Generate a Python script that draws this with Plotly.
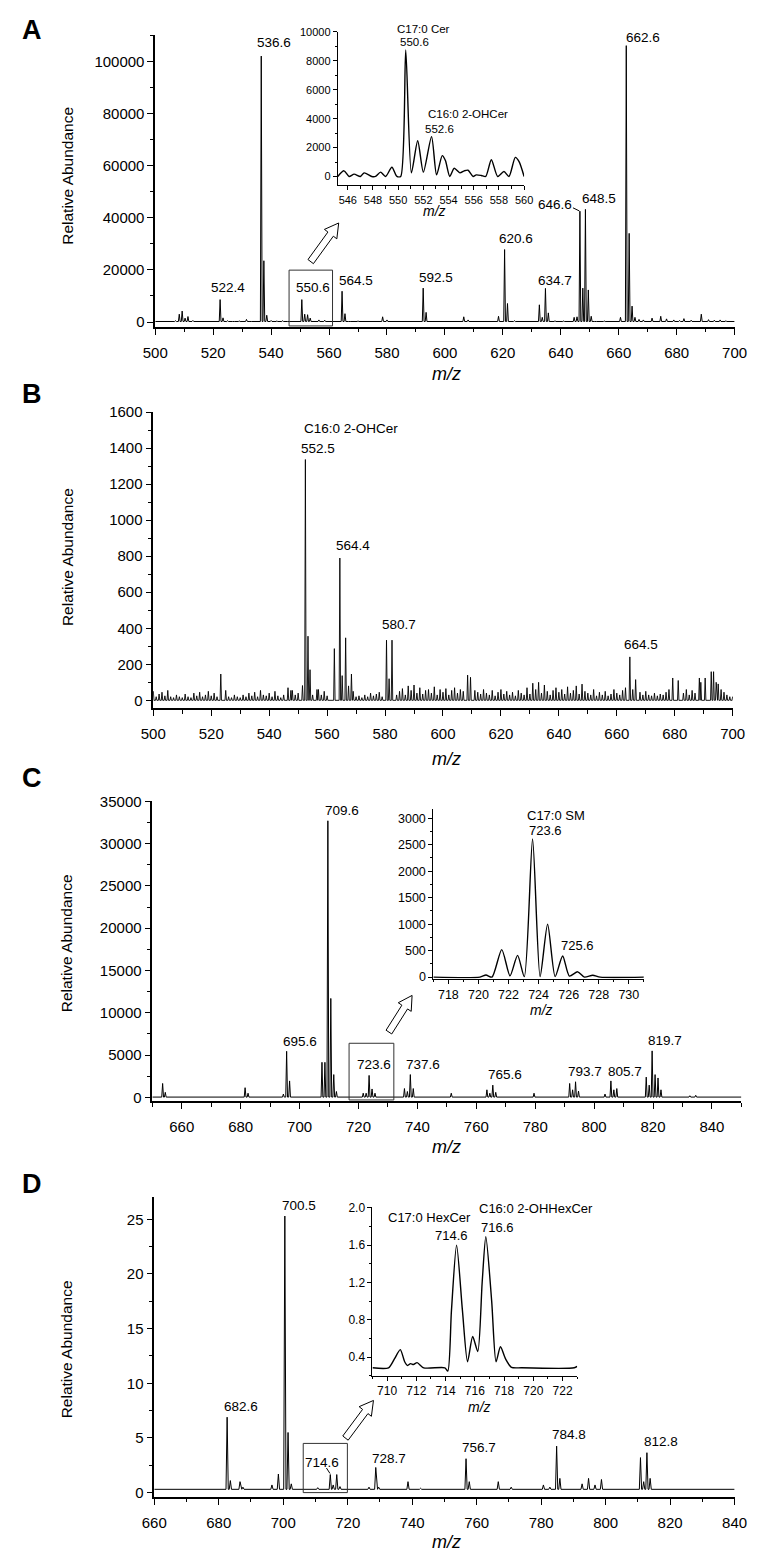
import math
import plotly.graph_objects as go

W, H = 757, 1549
FONT = "Liberation Sans, Arial, sans-serif"

# ---------------- data ----------------
# A: main spectrum (m/z 500-700), peak sticks + small baseline bumps
a_mz = [508.3, 509.3, 510.3, 511.3, 522.4, 523.4, 536.6, 537.5, 538.5, 550.6,
        551.6, 552.6, 553.5, 564.5, 565.5, 578.5, 592.5, 593.5, 606.5, 618.5,
        620.6, 621.6, 632.6, 633.6, 634.7, 635.7, 644.6, 645.6, 646.6, 647.6,
        648.5, 649.5, 650.5, 660.6, 662.6, 663.6, 664.6, 665.6, 671.5, 674.5,
        682.5, 688.5]
a_int = [3000, 4200, 1500, 2100, 8600, 1600, 102000, 23500, 2600, 8600,
         3000, 2800, 1500, 11800, 3200, 2000, 13000, 3700, 2000, 2200,
         27800, 7100, 6600, 1800, 12900, 3500, 1800, 2000, 42500, 13000,
         43200, 12300, 2200, 1800, 106000, 34000, 6100, 1800, 1500, 2200,
         1300, 3000]
a_noise_mz = [502, 504, 505.5, 507, 513, 515, 517, 519, 525, 527,
              529, 531.5, 533, 540, 542, 544, 546, 556.5, 558.5, 567,
              570, 573, 576, 580, 583, 586, 589, 596, 599, 602,
              604, 608, 611, 614, 616, 624, 627, 630, 638, 641,
              643, 652, 655, 658, 667, 668.5, 676.5, 679, 681, 685,
              691, 693, 695, 697]
a_noise_int = [300, 400, 250, 500, 600, 300, 400, 300, 500, 300,
               400, 1000, 300, 600, 400, 500, 300, 800, 700, 300,
               400, 300, 400, 800, 300, 400, 300, 400, 300, 400,
               300, 800, 300, 400, 300, 500, 300, 400, 500, 400,
               300, 300, 400, 300, 1000, 800, 1200, 800, 600, 700,
               900, 700, 800, 500]

# A inset (m/z 545-560)
ai_mz = [545.2, 545.7, 546.1, 546.5, 547.0, 547.3, 547.9, 548.2, 548.6, 549.0,
         549.5, 549.9, 550.2, 550.6, 551.05, 551.55, 552.0, 552.65, 553.05, 553.5,
         553.75, 554.1, 554.45, 554.9, 555.25, 555.55, 555.95, 556.2, 556.6, 556.95,
         557.4, 557.9, 558.4, 558.8, 559.3, 559.6, 560.0]
ai_int = [0, 390, 0, 160, 0, 250, 0, 0, 300, 0,
          640, 0, 0, 8750, 250, 2470, 300, 2760, 110, 1440,
          1100, 0, 570, 250, 390, 430, 0, 110, 70, 0,
          1160, 0, 340, 0, 1320, 1030, 0]

# B: main spectrum (m/z 500-700)
b_mz = [523.3, 546.5, 547.5, 551.5, 552.5, 553.4, 554.1, 556.5, 562.5, 564.4,
        565.2, 566.4, 567.4, 568.4, 580.5, 581.4, 582.4, 608.5, 609.5, 664.5,
        665.5, 666.5, 679.3, 681.2, 688.5, 690.5, 692.6, 693.4, 694.3, 695.0]
b_int = [146, 70, 55, 82, 1337, 356, 170, 60, 287, 790,
         137, 347, 80, 146, 334, 120, 334, 140, 128, 241,
         60, 115, 124, 110, 124, 124, 159, 159, 100, 91]
# noise heights at every integer m/z from 500 to 700
b_noise = [50, 20, 35, 45, 25, 55, 20, 15, 30, 20,
           15, 35, 20, 15, 40, 25, 45, 20, 30, 50,
           25, 40, 20, 0, 0, 55, 20, 15, 30, 20,
           15, 30, 20, 40, 25, 45, 20, 55, 30, 25,
           40, 20, 50, 25, 15, 30, 0, 0, 55, 30,
           40, 0, 0, 0, 0, 30, 0, 60, 30, 50,
           25, 0, 0, 0, 0, 0, 0, 0, 0, 50,
           20, 25, 15, 30, 20, 40, 25, 35, 45, 20,
           0, 0, 0, 0, 30, 50, 65, 30, 80, 55,
           85, 40, 70, 35, 55, 60, 40, 75, 30, 60,
           45, 65, 30, 55, 70, 40, 60, 50, 0, 0,
           0, 55, 45, 35, 60, 40, 30, 55, 25, 45,
           60, 35, 50, 30, 45, 25, 55, 40, 30, 70,
           35, 95, 60, 100, 40, 85, 50, 30, 55, 70,
           45, 60, 35, 75, 40, 55, 80, 35, 90, 50,
           40, 30, 60, 25, 45, 30, 50, 25, 35, 60,
           40, 30, 55, 70, 0, 0, 0, 0, 45, 30,
           50, 30, 25, 40, 25, 35, 30, 45, 60, 0,
           0, 0, 0, 40, 60, 30, 55, 40, 0, 100,
           0, 0, 0, 0, 0, 0, 60, 45, 30, 20,
           20]

# C: main spectrum (m/z 650-850)
c_mz = [653.5, 654.4, 681.5, 682.5, 694.5, 695.6, 696.6, 707.6, 708.6, 709.6,
        710.6, 711.6, 712.5, 721.6, 722.6, 723.6, 724.6, 725.6, 735.6, 736.6,
        737.6, 738.6, 751.5, 763.6, 764.6, 765.6, 766.6, 779.6, 791.7, 792.7,
        793.7, 794.7, 803.7, 805.7, 806.7, 807.7, 817.7, 818.7, 819.7, 820.7,
        821.7, 822.7, 832.5, 834.5]
c_int = [1650, 600, 1150, 500, 400, 5450, 1950, 4150, 4150, 32700,
         11700, 2700, 700, 500, 500, 2600, 1000, 500, 1050, 700,
         2700, 1050, 500, 900, 500, 1450, 600, 500, 1650, 900,
         1850, 750, 400, 1950, 900, 1050, 2400, 1450, 5500, 2700,
         2300, 900, 200, 250]

# C inset (m/z 717-731)
ci_mz = [717.0, 720.1, 720.5, 720.9, 721.55, 722.1, 722.6, 723.05, 723.6, 724.1,
         724.6, 725.1, 725.6, 726.05, 726.6, 727.05, 727.6, 728.1, 731.0]
ci_int = [0, 0, 40, 0, 520, 25, 410, 10, 2610, 10,
          1000, 10, 400, 20, 100, 0, 35, 0, 0]

# D: main spectrum (m/z 660-840)
d_mz = [682.6, 683.6, 686.6, 687.5, 696.5, 698.5, 700.5, 701.5, 702.5, 710.7,
        714.6, 715.5, 716.6, 717.6, 726.6, 728.7, 729.6, 738.7, 742.6, 756.7,
        757.7, 766.7, 770.7, 780.7, 782.7, 784.8, 785.8, 792.7, 794.7, 796.7,
        798.7, 810.8, 811.8, 812.8, 813.8]
d_int = [6.9, 1.1, 1.0, 0.5, 0.7, 1.7, 25.3, 5.5, 0.8, 0.45,
         1.65, 0.7, 1.65, 0.55, 0.5, 2.3, 0.5, 1.0, 0.4, 3.1,
         1.0, 1.0, 0.5, 0.7, 0.5, 4.25, 1.3, 0.8, 1.3, 0.7,
         1.2, 3.2, 1.0, 3.65, 1.3]

# D inset (m/z 709-723)
di_mz = [709.0, 710.1, 710.5, 710.9, 711.2, 711.4, 711.6, 711.8, 712.05, 712.5,
         713.95, 714.15, 714.4, 714.75, 715.15, 715.5, 715.85, 716.2, 716.5, 716.75,
         717.15, 717.45, 717.75, 718.1, 718.5, 719.2, 722.8, 723.0]
di_int = [0.285, 0.285, 0.38, 0.48, 0.35, 0.31, 0.33, 0.32, 0.34, 0.285,
          0.285, 0.25, 0.9, 1.6, 0.9, 0.35, 0.62, 0.46, 1.2, 1.69,
          1.0, 0.35, 0.51, 0.38, 0.29, 0.285, 0.285, 0.3]

# peak labels
a_lab = ['536.6', '662.6', '522.4', '550.6', '564.5', '592.5', '620.6', '634.7', '646.6', '648.5']
a_lab_x = [540.9, 668.4, 525.2, 554.5, 569.4, 597.0, 624.6, 637.9, 637.9, 653.2]
a_lab_y = [107100, 109000, 13200, 13200, 15800, 16900, 32000, 15800, 45100, 47400]
ai_lab = ['550.6', 'C16:0 2-OHCer', '552.6']
ai_lab_x = [551.3, 555.55, 553.25]
ai_lab_y = [9300, 4300, 3290]
b_lab = ['C16:0 2-OHCer', '552.5', '564.4', '580.7', '664.5']
b_lab_x = [568.3, 557.0, 568.9, 584.7, 668.2]
b_lab_y = [1510, 1397, 858, 420, 310]
c_lab = ['709.6', '695.6', '723.6', '737.6', '765.6', '793.7', '805.7', '819.7']
c_lab_x = [714.5, 700.2, 725.2, 742.0, 769.7, 797.0, 810.6, 823.9]
c_lab_y = [33900, 6590, 3915, 3876, 2713, 3100, 3100, 6705]
ci_lab = ['C17:0 SM', '723.6', '725.6']
ci_lab_x = [725.16, 724.45, 726.57]
ci_lab_y = [3056, 2776, 589]
d_lab = ['700.5', '682.6', '714.6', '728.7', '756.7', '784.8', '812.8']
d_lab_x = [704.8, 686.8, 712.1, 732.8, 760.8, 788.7, 817.2]
d_lab_y = [26.3, 7.9, 2.77, 3.15, 4.1, 5.27, 4.7]
di_lab = ['C17:0 HexCer', '714.6', 'C16:0 2-OHHexCer', '716.6']
di_lab_x = [712.9, 714.42, 720.16, 717.52]
di_lab_y = [1.895, 1.704, 1.99, 1.79]


def sticks(mz, inten, base, hw, lo, hi):
    xs, ys = [lo], [base]
    for m, v in sorted(zip(mz, inten)):
        if v <= 0:
            continue
        xs += [m - hw, m, m + hw]
        ys += [base, v, base]
    xs.append(hi)
    ys.append(base)
    return xs, ys


def dom_x(x0, x1):
    return [x0 / W, x1 / W]


def dom_y(y0, y1):
    return [1 - y1 / H, 1 - y0 / H]


fig = go.Figure()


def add_line(x, y, n, width=1.0, spline=False):
    fig.add_trace(go.Scatter(
        x=x, y=y, xaxis='x' + n, yaxis='y' + n, mode='lines',
        line=dict(color='black', width=width,
                  shape='spline' if spline else 'linear', smoothing=0.7),
        hoverinfo='skip', showlegend=False))


# traces: 1=A, 2=A inset, 3=B, 4=C, 5=C inset, 6=D, 7=D inset
x, y = sticks(a_mz + a_noise_mz, a_int + a_noise_int, 200, 0.3, 500, 700)
add_line(x, y, '1')
add_line(ai_mz, ai_int, '2', 1.4, True)
x, y = sticks(b_mz + list(range(500, 701)), b_int + b_noise, 0, 0.25, 500, 700)
add_line(x, y, '3', 0.9)
x, y = sticks(c_mz, c_int, 40, 0.3, 650, 850)
add_line(x, y, '4')
add_line(ci_mz, ci_int, '5', 1.4, True)
x, y = sticks(d_mz, d_int, 0.3, 0.35, 660, 840)
add_line(x, y, '6')
add_line(di_mz, di_int, '7', 1.4, True)


def axis(domain, rng, dtick, minor, size, ticklen, lw, anchor, fmt=None, standoff=None):
    d = dict(domain=domain, range=rng, dtick=dtick, tick0=0, anchor=anchor,
             showgrid=False, zeroline=False, showline=True, linecolor='black',
             linewidth=lw, ticks='outside', ticklen=ticklen, tickwidth=1,
             tickcolor='black', tickfont=dict(size=size, color='black', family=FONT),
             minor=dict(dtick=minor, ticks='outside', ticklen=ticklen * 0.55,
                        tickwidth=1, tickcolor='black', showgrid=False),
             fixedrange=True)
    if fmt:
        d['tickformat'] = fmt
    if standoff is not None:
        d['ticklabelstandoff'] = standoff
    return d


lay = {}
# A
lay['xaxis'] = axis(dom_x(139, 739), [500, 700], 20, 10, 15, 6, 2, 'y', standoff=5)
lay['yaxis'] = axis(dom_y(18, 313), [-1900, 110150], 20000, 10000, 15, 6, 1.5, 'x', 'd')
lay['xaxis2'] = axis(dom_x(328, 521), [545.2, 560], 2, 1, 11, 4, 1, 'y2')
lay['yaxis2'] = axis(dom_y(15, 170), [-616, 10010], 2000, 1000, 11, 4, 1, 'x2', 'd')
# B
lay['xaxis3'] = axis(dom_x(137, 737), [500, 700], 20, 10, 15, 6, 2, 'y3', standoff=5)
lay['yaxis3'] = axis(dom_y(399, 698), [-44, 1600], 200, 100, 15, 6, 1.5, 'x3', 'd')
# C
lay['xaxis4'] = axis(dom_x(136, 746), [650, 850], 20, 10, 15, 6, 2, 'y4', standoff=5)
lay['yaxis4'] = axis(dom_y(792, 1095), [-470, 35000], 5000, 2500, 15, 6, 1.5, 'x4', 'd')
lay['xaxis5'] = axis(dom_x(427, 645), [717, 731], 2, 1, 12.5, 4, 1, 'y5')
lay['yaxis5'] = axis(dom_y(800, 971), [-28, 3170], 500, 250, 12.5, 4, 1, 'x5', 'd')
# D
lay['xaxis6'] = axis(dom_x(138, 739), [660, 840], 20, 10, 15, 6, 2, 'y6', standoff=5)
lay['yaxis6'] = axis(dom_y(1192, 1494), [-0.36, 27], 5, 2.5, 15, 6, 1.5, 'x6', 'd')
lay['xaxis7'] = axis(dom_x(364, 576), [709, 723], 2, 1, 12, 4, 1, 'y7')
lay['yaxis7'] = axis(dom_y(1202, 1372), [0.2, 2.005], 0.4, 0.2, 12, 4, 1, 'x7', '.1f')
fig.update_layout(**lay)

ann = []


def labels(texts, xs, ys, n, size):
    for t, xv, yv in zip(texts, xs, ys):
        ann.append(dict(text=t, x=xv, y=yv, xref='x' + n, yref='y' + n,
                        showarrow=False, xanchor='center', yanchor='middle',
                        font=dict(size=size, color='black', family=FONT)))


labels(a_lab, a_lab_x, a_lab_y, '', 13.5)
labels(ai_lab, ai_lab_x, ai_lab_y, '2', 11.5)
labels(b_lab, b_lab_x, b_lab_y, '3', 13.5)
labels(c_lab, c_lab_x, c_lab_y, '4', 13.5)
labels(ci_lab, ci_lab_x, ci_lab_y, '5', 13)
labels(d_lab, d_lab_x, d_lab_y, '6', 13.5)
labels(di_lab, di_lab_x, di_lab_y, '7', 13)
# this one sits above the inset's y range, so place it against the axis domain
ann.append(dict(text='C17:0 Cer', x=552.0, y=1.02, xref='x2', yref='y2 domain',
                showarrow=False, xanchor='center', yanchor='middle',
                font=dict(size=11.5, color='black', family=FONT)))


def ptext(text, x, y, size, bold=False, italic=False, angle=0):
    t = text
    if bold:
        t = '<b>' + t + '</b>'
    if italic:
        t = '<i>' + t + '</i>'
    ann.append(dict(text=t, x=x / W, y=1 - y / H, xref='paper', yref='paper',
                    showarrow=False, xanchor='center', yanchor='middle',
                    textangle=angle, font=dict(size=size, color='black', family=FONT)))


for letter, ly in [('A', 13), ('B', 381), ('C', 768), ('D', 1178)]:
    ptext(letter, 11, ly, 27, bold=True)
for ty in [160, 545, 935, 1345]:
    ptext('Relative Abundance', 48, ty, 15.5, angle=-90)
for ty in [360, 749, 1141, 1540]:
    ptext('m/z', 441, ty, 18, italic=True)
ptext('m/z', 428, 196, 14, italic=True)
ptext('m/z', 539, 1003, 14, italic=True)
ptext('m/z', 475, 1404, 14, italic=True)

fig.update_layout(annotations=ann)

shapes = []
# zoom boxes
shapes.append(dict(type='rect', xref='x', yref='y', x0=546.2, x1=561.2, y0=-1500, y1=19900,
                   line=dict(color='#333', width=1)))
shapes.append(dict(type='rect', xref='x4', yref='y4', x0=716.8, x1=732.0, y0=-300, y1=6400,
                   line=dict(color='#333', width=1)))
shapes.append(dict(type='rect', xref='x6', yref='y6', x0=706.2, x1=719.9, y0=0, y1=4.5,
                   line=dict(color='#333', width=1)))
# leader lines
shapes.append(dict(type='line', xref='x', yref='y', x0=644.2, y0=43800, x1=646.4, y1=42600,
                   line=dict(color='black', width=1)))
shapes.append(dict(type='line', xref='x6', yref='y6', x0=713.4, y0=2.25, x1=714.5, y1=1.75,
                   line=dict(color='black', width=1)))


def hollow_arrow(x0, y0, x1, y1, shaft=3.5, head=8.0, head_len=14.0):
    dx, dy = x1 - x0, y1 - y0
    L = math.hypot(dx, dy)
    ux, uy = dx / L, dy / L
    nx, ny = -uy, ux
    bx, by = x1 - ux * head_len, y1 - uy * head_len
    pts = [(x0 + nx * shaft, y0 + ny * shaft), (bx + nx * shaft, by + ny * shaft),
           (bx + nx * head, by + ny * head), (x1, y1),
           (bx - nx * head, by - ny * head), (bx - nx * shaft, by - ny * shaft),
           (x0 - nx * shaft, y0 - ny * shaft)]
    path = 'M ' + ' L '.join(f'{px / W:.5f},{1 - py / H:.5f}' for px, py in pts) + ' Z'
    return dict(type='path', xref='paper', yref='paper', path=path,
                fillcolor='white', line=dict(color='black', width=1))


shapes.append(hollow_arrow(300, 247, 329, 208))
shapes.append(hollow_arrow(381, 1025, 405, 988))
shapes.append(hollow_arrow(336, 1435, 365, 1397))
fig.update_layout(shapes=shapes)

fig.update_layout(width=W, height=H, autosize=False,
                  margin=dict(l=0, r=0, t=0, b=0),
                  paper_bgcolor='white', plot_bgcolor='white',
                  showlegend=False, font=dict(family=FONT, color='black'))

fig.write_html("out.html")
